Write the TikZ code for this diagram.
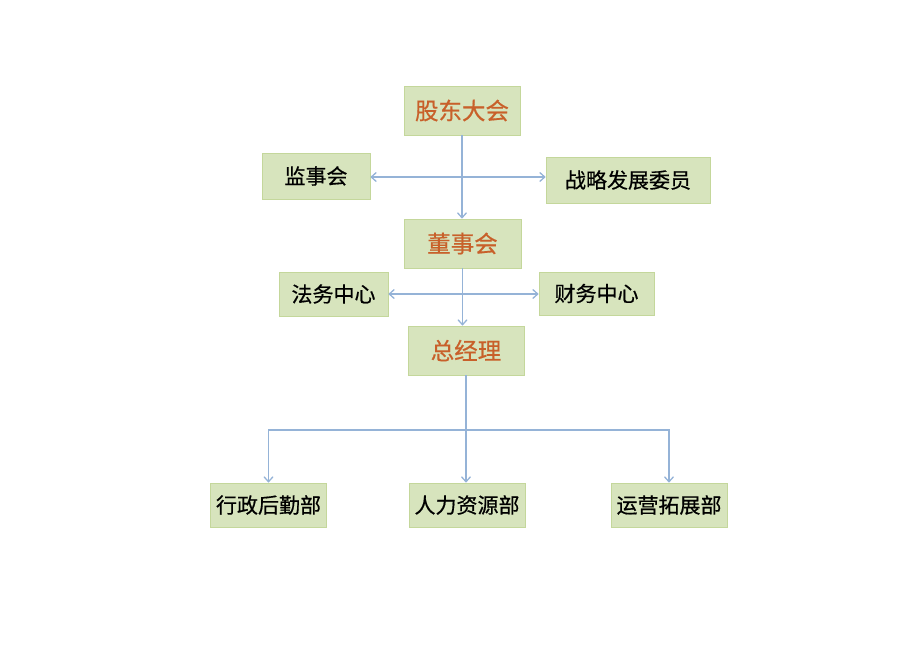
\documentclass[tikz,border=0pt]{standalone}
\usepackage{fontspec}
\usepackage{xcolor}
\usepackage{tikz}
\usetikzlibrary{arrows.meta}
\newfontfamily\cjk[FakeBold=0.6]{Noto Sans CJK SC}
\definecolor{boxgreen}{HTML}{D7E4BD}
\definecolor{boxedge}{HTML}{C4D79B}
\definecolor{linkblue}{HTML}{95B3D7}
\definecolor{headorange}{HTML}{C8602A}

\begin{document}
\begin{tikzpicture}[x=1pt,y=-1pt,>={Straight Barb[length=5pt,width=9pt]}]
  \tikzset{
    box/.style={fill=boxgreen,draw=boxedge,line width=0.6pt,inner sep=0pt,
      minimum height=46,font=\cjk\fontsize{21}{24}\selectfont},
    lead/.style={box,minimum height=49,text=headorange,font=\cjk\fontsize{23.5}{26}\selectfont},
    link/.style={linkblue,line width=1.3pt}
  }
  \useasboundingbox (0,0) rectangle (920,651);
  % upper levels
  \node[lead,minimum width=116] (gd)  at (462,110.5) {股东大会};
  \node[box,minimum width=108]  (jsh) at (316,176)   {监事会};
  \node[box,minimum width=164]  (zl)  at (628,180)   {战略发展委员};
  \node[lead,minimum width=117] (dsh) at (462.5,243.5) {董事会};
  \node[box,minimum width=109,minimum height=44] (fw) at (333.5,294) {法务中心};
  \node[box,minimum width=115,minimum height=43] (cw) at (596.5,293.5) {财务中心};
  \node[lead,minimum width=116] (zjl) at (466,350.5) {总经理};
  % departments
  \node[box,minimum width=116,minimum height=44] (xz) at (268.5,505) {行政后勤部};
  \node[box,minimum width=116,minimum height=44] (rl) at (467,505)   {人力资源部};
  \node[box,minimum width=116,minimum height=44] (yy) at (669,505)   {运营拓展部};
  \coordinate (j1) at (462,177);
  \coordinate (j2) at (462,294);
  \coordinate (bus) at (466,430);
  \draw[link,->] (gd.south) -- (gd.south |- dsh.north);
  \draw[link,->] (j1) -- (j1 -| jsh.east);
  \draw[link,->] (j1) -- (j1 -| zl.west);
  \draw[link,->] (dsh.south) -- (dsh.south |- zjl.north);
  \draw[link,->] (j2) -- (j2 -| fw.east);
  \draw[link,->] (j2) -- (j2 -| cw.west);
  \draw[link,->] (zjl.south) -- (zjl.south |- rl.north);
  \draw[link,->] (bus) -| (xz.north);
  \draw[link,->] (bus) -| (yy.north);
\end{tikzpicture}
\end{document}
